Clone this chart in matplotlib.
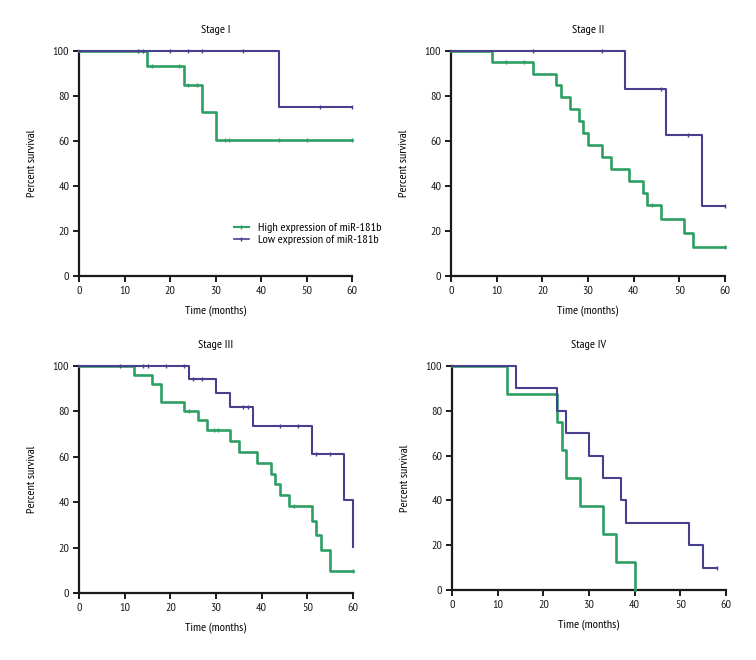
import numpy as np
import matplotlib
matplotlib.use("Agg")
import matplotlib.pyplot as plt
from matplotlib.lines import Line2D

plt.rcParams['font.family'] = ['PT Sans Narrow', 'Liberation Sans', 'DejaVu Sans']

GREEN = '#2f9e64'
PURPLE = '#47408c'
FS = 8.7

stages = ["Stage I", "Stage II", "Stage III", "Stage IV"]
legend_labels = ["High expression of miR-181b", "Low expression of miR-181b"]

# Stage I
high_I_t = [0, 15, 23, 27, 30, 60]
high_I_s = [100, 93.3, 84.8, 72.7, 60.6, 60.6]
high_I_c = [16, 22, 24, 26, 32, 33, 44, 50, 60]
low_I_t = [0, 44, 60]
low_I_s = [100, 75, 75]
low_I_c = [13, 14, 20, 24, 27, 36, 53, 60]

# Stage II
high_II_t = [0, 9, 18, 23, 24, 26, 28, 29, 30, 33, 35, 39, 42, 43, 46, 51, 53, 60]
high_II_s = [100, 95, 89.9, 84.7, 79.4, 74.1, 68.8, 63.5, 58.2, 52.9, 47.6, 42.3, 37.0, 31.7, 25.4, 19.0, 12.7, 12.7]
high_II_c = [12, 16, 44, 60]
low_II_t = [0, 38, 47, 55, 60]
low_II_s = [100, 83.3, 62.5, 31.25, 31.25]
low_II_c = [18, 33, 46, 52, 60]

# Stage III
high_III_t = [0, 12, 16, 18, 23, 26, 28, 33, 35, 39, 42, 43, 44, 46, 51, 52, 53, 55, 60]
high_III_s = [100, 96, 92, 84, 80, 76, 71.6, 66.8, 62, 57.3, 52.5, 47.8, 43.0, 38.2, 31.8, 25.5, 19.1, 9.6, 9.6]
high_III_c = [24, 29.5, 30.5, 47, 60]
low_III_t = [0, 24, 30, 33, 38, 51, 58, 60]
low_III_s = [100, 94.4, 88, 81.8, 73.5, 61.3, 40.8, 20.4]
low_III_c = [9, 14, 15, 19, 23, 25, 27, 36, 37, 44, 48, 52, 55]

# Stage IV
high_IV_t = [0, 12, 23, 24, 25, 28, 33, 36, 40]
high_IV_s = [100, 87.5, 75, 62.5, 50, 37.5, 25, 12.5, 0]
high_IV_c = []
low_IV_t = [0, 14, 23, 25, 30, 33, 37, 38, 52, 55, 58]
low_IV_s = [100, 90, 80, 70, 60, 50, 40, 30, 20, 10, 10]
low_IV_c = [58]

data = [
    ((high_I_t, high_I_s, high_I_c), (low_I_t, low_I_s, low_I_c)),
    ((high_II_t, high_II_s, high_II_c), (low_II_t, low_II_s, low_II_c)),
    ((high_III_t, high_III_s, high_III_c), (low_III_t, low_III_s, low_III_c)),
    ((high_IV_t, high_IV_s, high_IV_c), (low_IV_t, low_IV_s, low_IV_c)),
]

fig = plt.figure(figsize=(7.56, 6.60), dpi=100)
W, H = 756, 660
boxes = [(79, 51, 352, 276), (451, 51, 725, 276), (79, 366, 353, 593), (452, 366, 726, 590)]


def level_at(t, s, x):
    idx = np.searchsorted(np.asarray(t), x, side='right') - 1
    idx = max(0, min(idx, len(s) - 1))
    return s[idx]


for i, (box, (hi, lo)) in enumerate(zip(boxes, data)):
    x0, y0, x1, y1 = box
    ax = fig.add_axes([x0 / W, 1 - y1 / H, (x1 - x0) / W, (y1 - y0) / H])
    for (t, s, c), col, lw, z in ((hi, GREEN, 1.9, 3), (lo, PURPLE, 1.5, 4)):
        ax.step(t, s, where='post', color=col, lw=lw, clip_on=False, zorder=z)
        if c:
            cy = [level_at(t, s, x) for x in c]
            ax.plot(c, cy, ls='none', marker='|', ms=3.5, mew=1.0, color=col,
                    clip_on=False, zorder=z)
    ax.set_xlim(0, 60)
    ax.set_ylim(0, 100)
    ax.set_xticks(np.arange(0, 61, 10))
    ax.set_yticks(np.arange(0, 101, 20))
    for sp in ['top', 'right']:
        ax.spines[sp].set_visible(False)
    for sp in ['left', 'bottom']:
        ax.spines[sp].set_linewidth(1.6)
        ax.spines[sp].set_color('#1a1a1a')
    ax.tick_params(axis='both', direction='out', length=4.5, width=1.4,
                   labelsize=FS, colors='#1a1a1a', pad=2.5)
    ax.set_title(stages[i], fontsize=FS, pad=13)
    ax.set_xlabel("Time (months)", fontsize=FS, labelpad=7)
    ax.set_ylabel("Percent survival", fontsize=FS, labelpad=11)
    if i == 0:
        handles = [Line2D([0], [0], color=GREEN, lw=1.5, marker='|', ms=2.5),
                   Line2D([0], [0], color=PURPLE, lw=1.2, marker='|', ms=2.5)]
        fig.legend(handles, legend_labels, loc='upper left',
                   bbox_to_anchor=(234 / W, 1 - 223 / H), frameon=False,
                   fontsize=FS, handlelength=1.2, handletextpad=0.8,
                   labelspacing=0.12, borderpad=0, borderaxespad=0)

fig.savefig('out.png', dpi=100)
